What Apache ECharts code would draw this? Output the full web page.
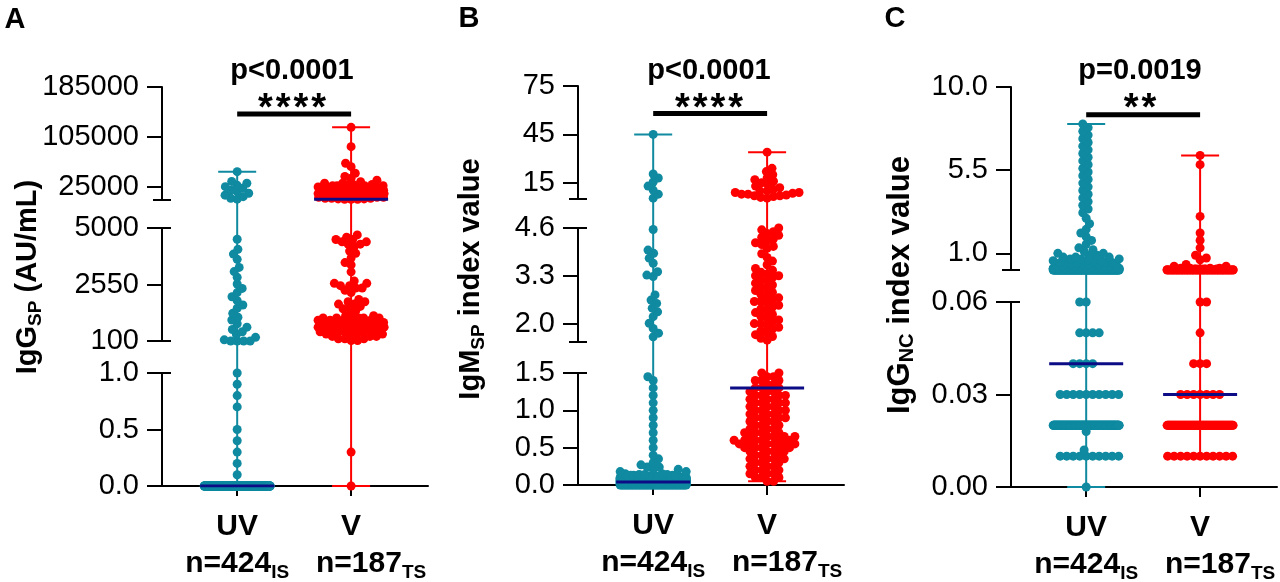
<!DOCTYPE html>
<html>
<head>
<meta charset="utf-8">
<title>Antibody levels, UV vs V</title>
<script src="https://cdn.jsdelivr.net/npm/echarts@6.0.0/dist/echarts.min.js"></script>
<style>
  html, body { margin: 0; padding: 0; background: #fff; }
  #chart { width: 1280px; height: 582px; }
</style>
</head>
<body>
<div id="chart"></div>
<script>
// groups on every x axis
const groups = ['UV', 'V'];
const groupN = ['n=424', 'n=187'];
const groupSub = ['IS', 'TS'];

// panel A, IgG SP (AU/mL): [value, number of dots]
const igGspUV = [
  [0, 374], [0.1, 1], [0.2, 1], [0.3, 1], [0.4, 1], [0.5, 1], [0.7, 1], [0.8, 1], [0.9, 1], [1.0, 1],
  [100, 4], [150, 1], [260, 1], [380, 1], [500, 1], [600, 1], [700, 1], [850, 1], [1010, 1], [1130, 1],
  [1300, 1], [1520, 1], [1660, 1], [1850, 1], [2020, 1], [2200, 1], [2380, 1], [2570, 1],
  [2860, 1], [3110, 1], [3290, 1], [3640, 1], [3870, 1], [4075, 1], [4510, 1],
  [5500, 1], [7000, 1], [9500, 1], [12000, 1], [15000, 1], [17500, 1], [20000, 1], [23000, 1],
  [25500, 1], [28000, 1], [31000, 1], [34000, 1], [49500, 1]
];
const igGspV = [
  [0, 1], [0.3, 1],
  [120, 2], [200, 3], [300, 3], [400, 4], [500, 5], [600, 6], [700, 7], [800, 7], [900, 7], [1000, 6],
  [1100, 5], [1200, 3], [1400, 1], [1500, 2], [1600, 1], [1700, 2], [1800, 2], [1900, 1],
  [2200, 1], [2300, 1], [2400, 2], [2500, 2], [2600, 2], [2700, 1], [3100, 1], [3400, 1], [3500, 1],
  [3700, 1], [3900, 1], [4000, 1], [4200, 1], [4300, 2], [4400, 2], [4500, 2], [4600, 1], [4700, 1],
  [5300, 3], [6000, 2], [7000, 3], [8500, 4], [10000, 5], [11500, 5], [12000, 2], [13000, 6],
  [14500, 6], [16000, 7], [17500, 7], [19000, 7], [20000, 2], [21000, 6], [23000, 6], [25000, 5],
  [27000, 4], [29000, 3], [31000, 2], [33500, 1], [36000, 1], [39000, 1], [42000, 1], [47000, 1],
  [57500, 1], [63000, 1], [89500, 1], [120500, 1]
];

// panel B, IgM SP index value
const igMspUV = [
  [0, 49], [0.01, 45], [0.02, 45], [0.03, 40], [0.04, 38], [0.05, 35], [0.06, 30], [0.07, 25],
  [0.08, 20], [0.09, 15], [0.1, 12], [0.11, 8], [0.12, 6], [0.13, 4], [0.14, 3],
  [0.15, 2], [0.18, 2], [0.21, 2], [0.24, 2], [0.27, 1], [0.3, 1], [0.35, 1], [0.4, 1], [0.5, 1],
  [0.6, 1], [0.7, 1], [0.8, 1], [0.9, 1], [1.0, 1], [1.1, 1], [1.2, 1], [1.3, 1], [1.4, 1], [1.45, 1],
  [1.64, 1], [1.74, 1], [1.87, 1], [2.01, 1], [2.19, 1], [2.32, 1], [2.42, 1], [2.55, 1], [2.64, 1],
  [2.78, 1], [3.28, 1], [3.32, 1], [3.41, 1], [3.64, 1], [3.78, 1], [3.91, 1], [4.0, 1], [4.56, 1],
  [5.5, 1], [8, 1], [10.5, 1], [13, 1], [15.5, 1], [18, 1], [20.5, 1], [45, 1]
];
const igMspV = [
  [0.05, 2], [0.1, 3], [0.15, 3], [0.2, 3], [0.25, 3], [0.3, 3], [0.35, 4], [0.4, 3], [0.45, 4],
  [0.5, 5], [0.55, 6], [0.6, 6], [0.65, 5], [0.7, 4], [0.75, 3], [0.8, 3], [0.85, 3], [0.9, 4],
  [0.95, 3], [1.0, 4], [1.05, 3], [1.1, 4], [1.15, 3], [1.2, 4], [1.25, 3], [1.3, 3], [1.35, 2],
  [1.4, 3], [1.45, 2], [1.5, 2],
  [1.55, 1], [1.6, 1], [1.65, 1], [1.7, 1], [1.75, 1], [1.8, 1], [1.85, 1], [1.9, 1], [1.95, 1],
  [2.0, 2], [2.05, 1], [2.1, 1], [2.15, 1], [2.2, 1], [2.25, 1], [2.3, 1], [2.35, 1], [2.4, 1],
  [2.45, 1], [2.5, 1], [2.55, 1], [2.6, 2], [2.65, 1], [2.7, 1], [2.75, 1], [2.8, 1], [2.85, 1],
  [2.9, 1], [2.95, 1], [3.0, 1], [3.05, 1], [3.1, 1], [3.15, 1], [3.2, 1], [3.25, 1], [3.3, 2],
  [3.35, 1], [3.4, 1], [3.45, 1], [3.5, 1], [3.6, 1], [3.7, 1], [3.8, 1], [3.9, 1],
  [4.05, 1], [4.1, 1], [4.15, 1], [4.2, 1], [4.25, 1], [4.3, 1], [4.35, 1], [4.4, 1], [4.45, 1],
  [4.5, 1], [4.55, 1], [4.6, 1],
  [5.5, 1], [6, 1], [6.5, 1], [7, 2], [7.5, 1], [8, 2], [8.5, 1], [9, 2], [10, 2], [11, 1], [12, 1],
  [13, 1], [14, 1], [15, 1], [16, 1], [17, 1], [18, 1], [20, 1], [22, 1], [24, 1], [34, 1]
];

// panel C, IgG NC index value
const igGncUV = [
  [0, 1], [0.01, 10], [0.012, 1], [0.018, 1], [0.02, 186], [0.03, 10], [0.04, 4], [0.05, 4], [0.06, 2],
  [0.1, 105], [0.15, 20], [0.2, 12], [0.3, 8], [0.4, 6], [0.5, 5], [0.6, 4], [0.7, 3], [0.8, 3],
  [0.9, 2], [1.0, 2], [1.1, 1], [1.2, 1], [1.3, 1], [1.5, 1], [1.7, 1], [1.9, 1], [2.1, 1], [2.3, 1],
  [2.6, 1], [2.9, 1], [3.2, 1], [3.4, 1], [3.6, 1], [3.8, 1], [4.0, 1], [4.2, 1], [4.4, 1], [4.6, 1],
  [4.8, 1], [5.0, 1], [5.2, 1], [5.4, 1], [5.6, 1], [5.8, 1], [6.0, 1], [6.2, 1], [6.4, 1], [6.6, 1],
  [6.8, 1], [7.0, 1], [7.2, 1], [7.4, 1], [7.6, 1], [7.8, 1], [8.0, 1]
];
const igGncV = [
  [0.01, 11], [0.02, 82], [0.03, 7], [0.04, 3], [0.05, 1], [0.06, 2],
  [0.1, 43], [0.12, 14], [0.15, 8], [0.2, 4], [0.3, 2], [0.4, 1], [0.65, 1], [0.75, 1], [0.9, 1],
  [1.3, 1], [1.7, 1], [2.1, 1], [3.0, 1], [5.8, 1], [6.3, 1]
];

// broken y axes: value range, ticks and tick labels of each piece, bottom piece first
const igGspRanges = [[0, 1], [100, 5000], [5000, 185000]];
const igGspTicks = [[0, 0.5, 1], [100, 2550, 5000], [25000, 105000, 185000]];
const igGspTickLabels = [['0.0', '0.5', '1.0'], ['100', '2550', '5000'], ['25000', '105000', '185000']];
const igMspRanges = [[0, 1.5], [1.5, 4.6], [5, 75]];
const igMspTicks = [[0, 0.5, 1, 1.5], [2.0, 3.3, 4.6], [15, 45, 75]];
const igMspTickLabels = [['0.0', '0.5', '1.0', '1.5'], ['2.0', '3.3', '4.6'], ['15', '45', '75']];
const igGncRanges = [[0, 0.06], [0.1, 10]];
const igGncTicks = [[0, 0.03, 0.06], [1, 5.5, 10]];
const igGncTickLabels = [['0.00', '0.03', '0.06'], ['1.0', '5.5', '10.0']];

const pValues = ['p<0.0001', 'p<0.0001', 'p=0.0019'];
const stars = ['****', '****', '**'];

// ---- layout and style ----
const TEAL = '#0f8aa0', RED = '#ff0000', NAVY = '#0c0c86', INK = '#000';
const FONT = '"Liberation Sans", Arial, sans-serif';
const TOP = 40, AXIS_LEN = 266, X_MIN = -0.66, X_MAX = 1.675;
const PX_PER_UNIT = AXIS_LEN / (X_MAX - X_MIN);
const DOT = 9, GAP = 6.5, HALF_SPREAD = 33, CAP_HALF = 19, MEDIAN_HALF = 37;

const panels = [
  { letter: 'A', letterPos: [15, 20], title: '{m|IgG}{s|SP}{m| (AU/mL)}', titlePos: [28, 277], titleSize: 29,
    uv: igGspUV, v: igGspV, ranges: igGspRanges, ticks: igGspTicks, tickLabels: igGspTickLabels,
    axisX: 162, axisY: 486, segPx: [[373, 486], [228, 341], [87, 199.5]],
    p: pValues[0], stars: stars[0], sigLevel: 142000, textX: 292 },
  { letter: 'B', letterPos: [469, 19], title: '{m|IgM}{s|SP}{m| index value}', titlePos: [471, 279], titleSize: 29,
    uv: igMspUV, v: igMspV, ranges: igMspRanges, ticks: igMspTicks, tickLabels: igMspTickLabels,
    axisX: 578, axisY: 485, segPx: [[373, 485], [228, 342], [86, 199]],
    p: pValues[1], stars: stars[1], sigLevel: 58, textX: 709 },
  { letter: 'C', letterPos: [895, 19], title: '{m|IgG}{s|NC}{m| index value}', titlePos: [900, 285], titleSize: 31,
    uv: igGncUV, v: igGncV, ranges: igGncRanges, ticks: igGncTicks, tickLabels: igGncTickLabels,
    axisX: 1011, axisY: 487, segPx: [[302, 487], [87, 270]],
    p: pValues[2], stars: stars[2], sigLevel: 8.5, textX: 1140 }
];

function expand(pairs) {
  const out = [];
  pairs.forEach(([v, c]) => { for (let i = 0; i < c; i++) out.push(v); });
  return out;
}

// pixel row of a value on a broken axis (gaps are spanned linearly)
function pixelOf(p, v) {
  const r = p.ranges, s = p.segPx;
  for (let i = 0; i < r.length; i++) {
    const [lo, hi] = r[i], [top, bot] = s[i];
    if (v <= hi || i === r.length - 1) {
      if (v >= lo || i === 0) return bot - (v - lo) / (hi - lo) * (bot - top);
      const phi = r[i - 1][1], ptop = s[i - 1][0];
      return ptop - (v - phi) / (lo - phi) * (ptop - bot);
    }
  }
}

// dot-plot spreading: equal values side by side, big rows squeezed into the column
function swarm(vals, ys) {
  const off = new Array(vals.length), placed = [];
  const rows = new Map();
  vals.forEach((v, i) => { if (!rows.has(v)) rows.set(v, []); rows.get(v).push(i); });
  const cap = Math.floor(2 * HALF_SPREAD / GAP) + 1;
  const rest = [];
  rows.forEach(idx => {
    if (idx.length > cap) {
      idx.forEach((i, j) => {
        off[i] = -HALF_SPREAD + j * 2 * HALF_SPREAD / (idx.length - 1);
        placed.push([off[i], ys[i]]);
      });
    } else rest.push(...idx);
  });
  rest.sort((a, b) => ys[b] - ys[a]);
  let side = 1;
  rest.forEach(i => {
    const y = ys[i];
    const near = placed.filter(q => Math.abs(q[1] - y) < GAP);
    const cands = [0];
    near.forEach(q => {
      const h = Math.sqrt(GAP * GAP - (q[1] - y) ** 2);
      cands.push(q[0] + h, q[0] - h);
    });
    cands.sort((a, b) => Math.abs(a) - Math.abs(b) || side * (b - a));
    const ok = x => near.every(q => Math.hypot(q[0] - x, q[1] - y) >= GAP - 1e-6);
    let x = cands.find(c => Math.abs(c) <= HALF_SPREAD && ok(c));
    if (x === undefined) {
      let best = -Infinity;
      for (let c = -HALF_SPREAD; c <= HALF_SPREAD; c += 0.5) {
        let d = Infinity;
        near.forEach(q => { d = Math.min(d, Math.hypot(q[0] - c, q[1] - y)); });
        const sc = d - 0.01 * Math.abs(c);
        if (sc > best) { best = sc; x = c; }
      }
    }
    if (x !== 0) side = -Math.sign(x);
    off[i] = x;
    placed.push([x, y]);
  });
  return off;
}

function median(arr) {
  const s = arr.slice().sort((a, b) => a - b), n = s.length;
  return n % 2 ? s[(n - 1) / 2] : (s[n / 2 - 1] + s[n / 2]) / 2;
}

const axisLineStyle = { color: INK, width: 2 };
const option = { animation: false, grid: [], xAxis: [], yAxis: [], series: [], graphic: [] };

function line(xi, yi, data, color, width, z) {
  option.series.push({ type: 'line', xAxisIndex: xi, yAxisIndex: yi, data, symbol: 'none', silent: true,
    lineStyle: { color, width, cap: 'butt' }, z });
}

panels.forEach(p => {
  const gi = option.grid.length;
  const h = p.axisY - TOP;
  option.grid.push({ left: p.axisX, top: TOP, width: AXIS_LEN, height: h, containLabel: false, outerBoundsMode: 'none' });
  const xi = option.xAxis.length, yi = option.yAxis.length;
  option.xAxis.push({
    gridIndex: gi, type: 'value', min: X_MIN, max: X_MAX,
    axisLine: { onZero: false, lineStyle: axisLineStyle },
    axisTick: { customValues: [0, 1], length: 10, lineStyle: axisLineStyle },
    splitLine: { show: false },
    axisLabel: {
      customValues: [0, 1], margin: 22, color: INK,
      formatter: val => {
        const i = Math.round(val);
        return '{m|' + groups[i] + '}\n' + (i === 1 ? '{g|}' : '') + '{m|' + groupN[i] + '}{s|' + groupSub[i] + '}';
      },
      rich: {
        m: { fontSize: 30, fontWeight: 'bold', fontFamily: FONT, color: INK, lineHeight: 37 },
        s: { fontSize: 19, fontWeight: 'bold', fontFamily: FONT, color: INK, verticalAlign: 'bottom' },
        g: { width: 40 }
      }
    }
  });
  option.yAxis.push({ gridIndex: gi, type: 'value', min: 0, max: h, show: false });

  // axis pieces
  p.ranges.forEach((r, k) => {
    const [top, bot] = p.segPx[k];
    const sg = option.grid.length;
    option.grid.push({ left: p.axisX, top, width: 20, height: bot - top, containLabel: false, outerBoundsMode: 'none' });
    option.xAxis.push({ gridIndex: sg, type: 'value', min: 0, max: 1, show: false });
    const ticks = p.ticks[k], labels = p.tickLabels[k];
    option.yAxis.push({
      gridIndex: sg, type: 'value', position: 'left', min: r[0], max: r[1],
      axisLine: { show: true, onZero: false, lineStyle: axisLineStyle },
      axisTick: { show: true, customValues: ticks, length: 15, lineStyle: axisLineStyle },
      axisLabel: {
        customValues: ticks, margin: 23, fontSize: 29, fontFamily: FONT, color: INK,
        formatter: val => {
          const j = ticks.findIndex(t => Math.abs(t - val) <= 1e-9 * Math.max(1, Math.abs(t)));
          return j >= 0 ? labels[j] : '';
        }
      },
      splitLine: { show: false }
    });
    const caps = [];
    if (k > 0) caps.push(r[0]);
    if (k < p.ranges.length - 1) caps.push(r[1]);
    option.yAxis.push({
      gridIndex: sg, type: 'value', position: 'left', offset: -9, min: r[0], max: r[1],
      axisLine: { show: false },
      axisTick: { show: true, customValues: caps, length: 18, lineStyle: axisLineStyle },
      axisLabel: { show: false }, splitLine: { show: false }
    });
  });

  const toY = v => p.axisY - pixelOf(p, v);

  [p.uv, p.v].forEach((pairs, g) => {
    const color = g === 0 ? TEAL : RED;
    const vals = expand(pairs);
    const ys = vals.map(v => pixelOf(p, v));
    const off = swarm(vals, ys);
    const lo = Math.min(...vals), hi = Math.max(...vals), md = median(vals);
    const cu = CAP_HALF / PX_PER_UNIT, mu = MEDIAN_HALF / PX_PER_UNIT;
    line(xi, yi, [[g, toY(lo)], [g, toY(hi)]], color, 2, 2);
    line(xi, yi, [[g - cu, toY(hi)], [g + cu, toY(hi)]], color, 2, 2);
    line(xi, yi, [[g - cu, toY(lo)], [g + cu, toY(lo)]], color, 2, 2);
    option.series.push({
      type: 'scatter', xAxisIndex: xi, yAxisIndex: yi, symbol: 'circle', symbolSize: DOT, silent: true,
      itemStyle: { color, opacity: 1 }, z: 3,
      data: vals.map((v, i) => [g + off[i] / PX_PER_UNIT, toY(v)])
    });
    line(xi, yi, [[g - mu, toY(md)], [g + mu, toY(md)]], NAVY, 3, 4);
  });

  // significance bracket
  line(xi, yi, [[0, toY(p.sigLevel)], [1, toY(p.sigLevel)]], INK, 5, 2);

  option.graphic.push(
    { type: 'text', x: p.letterPos[0], y: p.letterPos[1],
      style: { text: p.letter, font: 'bold 29px ' + FONT, fill: INK, align: 'center', verticalAlign: 'middle' } },
    { type: 'text', x: p.titlePos[0], y: p.titlePos[1], rotation: Math.PI / 2,
      style: { text: p.title, align: 'center', verticalAlign: 'middle',
        rich: {
          m: { fontSize: p.titleSize, fontWeight: 'bold', fontFamily: FONT, fill: INK, lineHeight: 34 },
          s: { fontSize: Math.round(p.titleSize * 0.66), fontWeight: 'bold', fontFamily: FONT, fill: INK, verticalAlign: 'bottom' }
        } } },
    { type: 'text', x: p.textX, y: 71,
      style: { text: p.p, font: 'bold 29px ' + FONT, fill: INK, align: 'center', verticalAlign: 'middle' } },
    { type: 'text', x: p.textX, y: 110,
      style: { text: p.stars.split('').map(() => '{st|*}').join(''), align: 'center', verticalAlign: 'middle',
        rich: { st: { fontSize: 38, fontWeight: 'bold', fontFamily: FONT, fill: INK, padding: [0, 1.5] } } } }
  );
});

const chart = echarts.init(document.getElementById('chart'), null, { renderer: 'canvas' });
chart.setOption(option);
</script>
</body>
</html>
